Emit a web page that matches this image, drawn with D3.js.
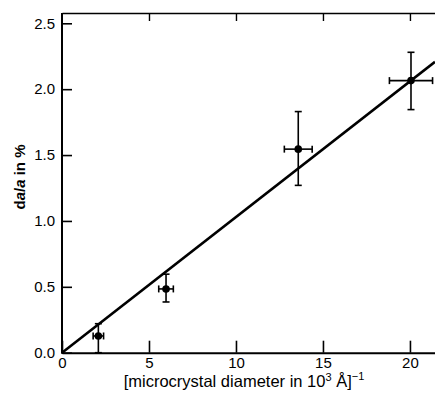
<!DOCTYPE html>
<html lang="en">
<head>
  <meta charset="UTF-8">
  <title>da/a vs inverse microcrystal diameter</title>
  <script src="https://d3js.org/d3.v7.min.js"></script>
  <style>
    body { margin: 0; background: #fff; }
    svg { display: block; }
  </style>
</head>
<body>
  <div id="canvas"></div>
  <script>
    // points: x = 1/diameter (10^3 A)^-1, y = da/a (%)
    const invDiameter = [2.09, 5.98, 13.58, 20.06];
    const xErr = [0.3, 0.42, 0.8, 1.24];
    const strain = [0.127, 0.484, 1.545, 2.065];
    const yLow = [0.0, 0.385, 1.27, 1.845];
    const yHigh = [0.22, 0.596, 1.83, 2.28];
    const fitSlope = 0.103;
    const xTicks = [0, 5, 10, 15, 20];
    const yTicks = [0.0, 0.5, 1.0, 1.5, 2.0, 2.5];

    const width = 435;
    const height = 393;
    const left = 62;
    const bottom = 352.7;
    const topY = 13;

    const x = d3.scaleLinear().domain([0, 21.44]).range([left, width]);
    const y = d3.scaleLinear().domain([0, 2.5]).range([bottom, 23.3]);

    const svg = d3.select('#canvas')
      .append('svg')
      .attr('width', width)
      .attr('height', height)
      .style('font-family', '"Liberation Sans", Arial, sans-serif');

    // bottom axis, ticks pointing inward
    const xAxis = svg.append('g')
      .attr('transform', 'translate(0,' + bottom + ')')
      .call(d3.axisBottom(x).tickValues(xTicks).tickSizeInner(-12).tickSizeOuter(0).tickPadding(4));
    xAxis.select('.domain').attr('stroke-width', 2);
    xAxis.selectAll('.tick line').attr('stroke-width', 1.6);
    xAxis.selectAll('.tick text')
      .attr('y', 5)
      .style('font-size', '15px')
      .text(d => d3.format('d')(d));

    // top border with small ticks
    const topAxis = svg.append('g')
      .attr('transform', 'translate(0,' + topY + ')')
      .call(d3.axisTop(x).tickValues(xTicks.slice(1)).tickSizeInner(-8).tickSizeOuter(0).tickFormat(''));
    topAxis.select('.domain').attr('stroke-width', 1.6);
    topAxis.selectAll('.tick line').attr('stroke-width', 1.4);

    // left axis
    const yAxis = svg.append('g')
      .attr('transform', 'translate(' + left + ',0)')
      .call(d3.axisLeft(y).tickValues(yTicks).tickSizeInner(-10).tickSizeOuter(0).tickPadding(7));
    yAxis.select('.domain').remove();
    yAxis.selectAll('.tick line').attr('stroke-width', 1.6);
    yAxis.selectAll('.tick text')
      .style('font-size', '15px')
      .text(d => d3.format('.1f')(d));
    svg.append('line')
      .attr('x1', left).attr('x2', left)
      .attr('y1', topY).attr('y2', bottom + 1)
      .attr('stroke', 'black')
      .attr('stroke-width', 2);

    // fitted line through origin
    svg.append('line')
      .attr('x1', x(0)).attr('y1', y(0))
      .attr('x2', x(21.44)).attr('y2', y(fitSlope * 21.44))
      .attr('stroke', 'black')
      .attr('stroke-width', 2.6);

    // error bars and points
    const pts = invDiameter.map((d, i) => ({ x: d, y: strain[i], dx: xErr[i], lo: yLow[i], hi: yHigh[i] }));
    const cap = 3.5;
    const g = svg.append('g').selectAll('g').data(pts).enter().append('g');
    g.append('line')
      .attr('x1', d => x(d.x)).attr('x2', d => x(d.x))
      .attr('y1', d => y(d.lo)).attr('y2', d => y(d.hi))
      .attr('stroke', 'black').attr('stroke-width', 1.6);
    g.append('line')
      .attr('x1', d => x(d.x - d.dx)).attr('x2', d => x(d.x + d.dx))
      .attr('y1', d => y(d.y)).attr('y2', d => y(d.y))
      .attr('stroke', 'black').attr('stroke-width', 1.6);
    // caps
    g.append('line')
      .attr('x1', d => x(d.x) - cap).attr('x2', d => x(d.x) + cap)
      .attr('y1', d => y(d.hi)).attr('y2', d => y(d.hi))
      .attr('stroke', 'black').attr('stroke-width', 1.6);
    g.append('line')
      .attr('x1', d => x(d.x) - cap).attr('x2', d => x(d.x) + cap)
      .attr('y1', d => y(d.lo)).attr('y2', d => y(d.lo))
      .attr('stroke', 'black').attr('stroke-width', 1.6);
    g.append('line')
      .attr('x1', d => x(d.x - d.dx)).attr('x2', d => x(d.x - d.dx))
      .attr('y1', d => y(d.y) - cap).attr('y2', d => y(d.y) + cap)
      .attr('stroke', 'black').attr('stroke-width', 1.6);
    g.append('line')
      .attr('x1', d => x(d.x + d.dx)).attr('x2', d => x(d.x + d.dx))
      .attr('y1', d => y(d.y) - cap).attr('y2', d => y(d.y) + cap)
      .attr('stroke', 'black').attr('stroke-width', 1.6);
    g.append('circle')
      .attr('cx', d => x(d.x)).attr('cy', d => y(d.y))
      .attr('r', 3.8)
      .attr('fill', 'black');

    // axis titles
    const xt = svg.append('text')
      .attr('x', 244)
      .attr('y', 387)
      .attr('text-anchor', 'middle')
      .style('font-size', '16.5px');
    xt.append('tspan').text('[microcrystal diameter in 10');
    xt.append('tspan').attr('dy', -6).style('font-size', '11px').text('3');
    xt.append('tspan').attr('dy', 6).text(' Å]');
    xt.append('tspan').attr('dy', -7).style('font-size', '11px').text('−1');

    const yt = svg.append('text')
      .attr('transform', 'translate(25,177) rotate(-90)')
      .attr('text-anchor', 'middle')
      .style('font-size', '15px')
      .style('font-weight', 'bold');
    yt.append('tspan').text('d');
    yt.append('tspan').style('font-style', 'italic').text('a');
    yt.append('tspan').text('/');
    yt.append('tspan').style('font-style', 'italic').text('a');
    yt.append('tspan').text(' in %');
  </script>
</body>
</html>
